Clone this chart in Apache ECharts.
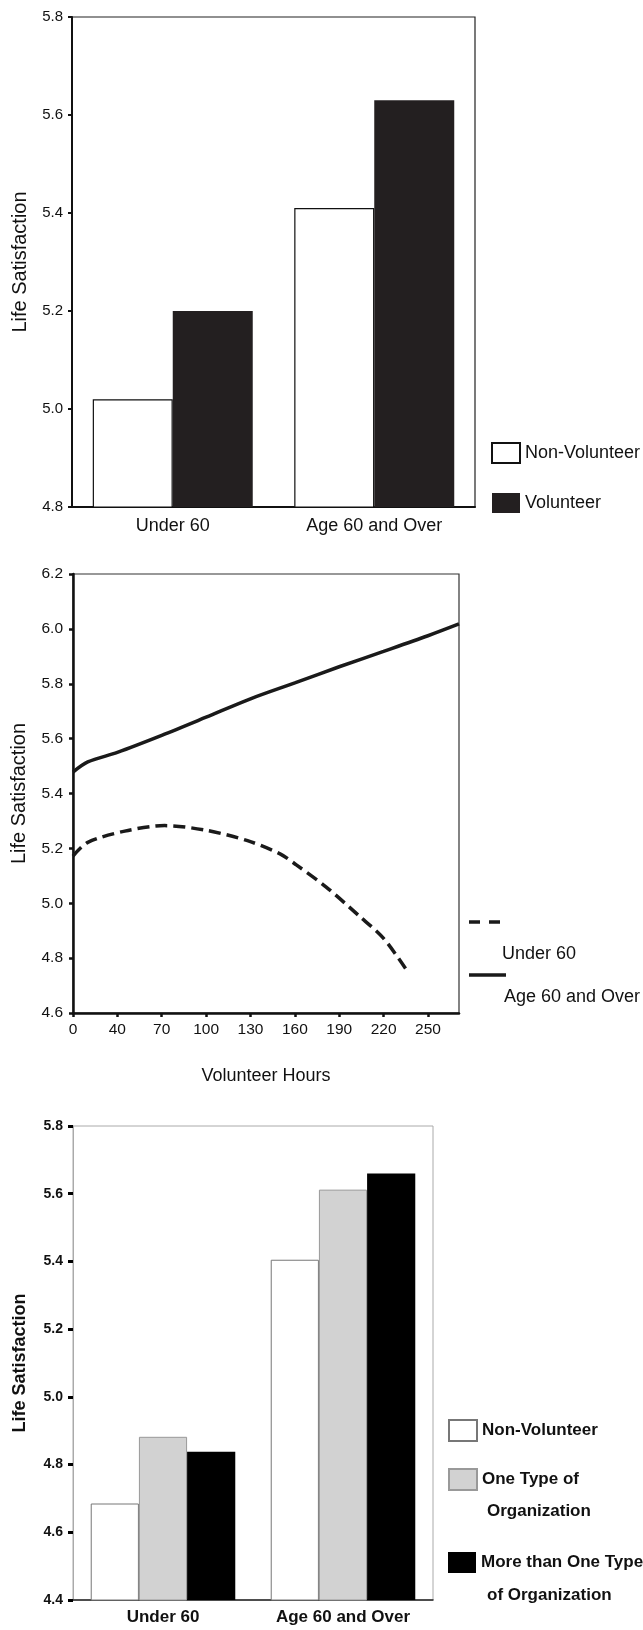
<!DOCTYPE html>
<html><head><meta charset="utf-8">
<script src="https://cdn.jsdelivr.net/npm/echarts@6/dist/echarts.min.js"></script>
<style>
html,body{margin:0;padding:0;background:#fff;}
#wrap{position:relative;width:643px;height:1630px;}
.c{position:absolute;left:0;width:643px;}
</style></head><body>
<div id="wrap">
<div id="c1" class="c" style="top:0;height:540px"></div>
<div id="c2" class="c" style="top:540px;height:550px"></div>
<div id="c3" class="c" style="top:1090px;height:540px"></div>
</div>
<script>
// ---- data ----
const ageGroups = ['Under 60', 'Age 60 and Over'];

// Chart 1: volunteer vs non-volunteer
const chart1NonVolunteer = [5.02, 5.41];
const chart1Volunteer = [5.20, 5.63];

// Chart 2: life satisfaction by volunteer hours
const hoursUnder60 = [10, 20, 45, 72, 100, 128, 150, 161, 181, 203, 220, 237];
const lsUnder60 = [5.172, 5.222, 5.263, 5.283, 5.266, 5.228, 5.18, 5.14, 5.06, 4.956, 4.872, 4.745];
const hoursAge60 = [10, 20, 40, 70, 100, 130, 160, 190, 220, 250, 271];
const lsAge60 = [5.478, 5.515, 5.55, 5.612, 5.678, 5.745, 5.803, 5.862, 5.918, 5.975, 6.018];
const hoursTickValues = [10, 40, 70, 100, 130, 160, 190, 220, 250];
const hoursTickLabels = ['0', '40', '70', '100', '130', '160', '190', '220', '250'];

// Chart 3: number of organization types
const chart3NonVolunteer = [4.685, 5.405];
const chart3OneType = [4.882, 5.612];
const chart3MoreThanOne = [4.838, 5.66];

const FONT = "'Liberation Sans', Arial, Helvetica, sans-serif";
const INK = '#111';
const fmt1 = v => (Math.round(v * 10) / 10).toFixed(1);

// ---- chart 1 ----
const ch1 = echarts.init(document.getElementById('c1'));
ch1.setOption({
  animation: false,
  textStyle: { fontFamily: FONT },
  grid: { left: 72, top: 17, width: 403, height: 490, show: true, borderColor: '#222', borderWidth: 1.2 },
  legend: {
    orient: 'vertical', left: 486, top: 437, itemWidth: 28, itemHeight: 20, itemGap: 29, icon: 'rect',
    textStyle: { fontSize: 18, color: INK, fontFamily: FONT },
    data: ['Non-Volunteer', 'Volunteer']
  },
  xAxis: {
    type: 'category', data: ageGroups,
    axisLine: { lineStyle: { color: INK, width: 2 } },
    axisTick: { alignWithLabel: true, length: 5, lineStyle: { width: 2, color: INK } },
    axisLabel: { fontSize: 18, color: INK, margin: 10, fontFamily: FONT }
  },
  yAxis: {
    type: 'value', min: 4.8, max: 5.8, interval: 0.2,
    axisLine: { show: true, lineStyle: { color: INK, width: 2 } },
    axisTick: { show: true, length: 4, lineStyle: { width: 2, color: INK } },
    splitLine: { show: false },
    axisLabel: { fontSize: 15, color: INK, margin: 9, formatter: fmt1, fontFamily: FONT },
    name: 'Life Satisfaction', nameLocation: 'middle', nameGap: 42,
    nameTextStyle: { fontSize: 20, color: INK, fontFamily: FONT }
  },
  series: [
    { name: 'Non-Volunteer', type: 'bar', data: chart1NonVolunteer, barCategoryGap: '20.6%', barGap: '0%',
      itemStyle: { color: '#fff', borderColor: INK, borderWidth: 1.2 } },
    { name: 'Volunteer', type: 'bar', data: chart1Volunteer, barCategoryGap: '20.6%', barGap: '0%',
      itemStyle: { color: '#231f20' } }
  ]
});

// ---- chart 2 ----
const ch2 = echarts.init(document.getElementById('c2'));
const zip = (xs, ys) => xs.map((x, i) => [x, ys[i]]);
ch2.setOption({
  animation: false,
  textStyle: { fontFamily: FONT },
  grid: { left: 73, top: 34, width: 386, height: 441, show: true, borderColor: '#333', borderWidth: 1.2 },
  xAxis: {
    type: 'value', min: 10, max: 271,
    name: 'Volunteer Hours', nameLocation: 'middle', nameGap: 54,
    nameTextStyle: { fontSize: 18, color: INK, fontFamily: FONT },
    axisLine: { lineStyle: { color: INK, width: 2.5 } },
    axisTick: { show: true, customValues: hoursTickValues, length: 4, lineStyle: { width: 2.5, color: INK } },
    axisLabel: { customValues: hoursTickValues, formatter: v => hoursTickLabels[hoursTickValues.indexOf(Math.round(v))],
      fontSize: 15.5, color: INK, margin: 9, fontFamily: FONT },
    splitLine: { show: false }
  },
  yAxis: {
    type: 'value', min: 4.6, max: 6.2, interval: 0.2,
    axisLine: { show: true, lineStyle: { color: INK, width: 2.5 } },
    axisTick: { show: true, length: 4, lineStyle: { width: 2.5, color: INK } },
    splitLine: { show: false },
    axisLabel: { fontSize: 15.5, color: INK, margin: 10, formatter: fmt1, fontFamily: FONT },
    name: 'Life Satisfaction', nameLocation: 'middle', nameGap: 44,
    nameTextStyle: { fontSize: 20, color: INK, fontFamily: FONT }
  },
  series: [
    { name: 'Under 60', type: 'line', data: zip(hoursUnder60, lsUnder60), symbol: 'none', smooth: 0.3,
      lineStyle: { color: '#1a1a1a', width: 3.5, type: [12, 6] } },
    { name: 'Age 60 and Over', type: 'line', data: zip(hoursAge60, lsAge60), symbol: 'none', smooth: 0.3,
      lineStyle: { color: '#1a1a1a', width: 3.5 } }
  ],
  graphic: [
    { type: 'line', shape: { x1: 469, y1: 382, x2: 500, y2: 382 }, style: { stroke: '#1a1a1a', lineWidth: 3.5, lineDash: [11, 9] } },
    { type: 'text', x: 502, y: 414, style: { text: 'Under 60', fontSize: 18, fill: INK, fontFamily: FONT, verticalAlign: 'middle' } },
    { type: 'line', shape: { x1: 469, y1: 435, x2: 506, y2: 435 }, style: { stroke: '#1a1a1a', lineWidth: 3.5 } },
    { type: 'text', x: 504, y: 457, style: { text: 'Age 60 and Over', fontSize: 18, fill: INK, fontFamily: FONT, verticalAlign: 'middle' } }
  ]
});

// ---- chart 3 ----
const ch3 = echarts.init(document.getElementById('c3'));
const legendText3 = { fontSize: 17, color: INK, fontFamily: FONT, fontWeight: 'bold' };
const firstLine = { 'One Type of Organization': 'One Type of', 'More than One Type of Organization': 'More than One Type' };
ch3.setOption({
  animation: false,
  textStyle: { fontFamily: FONT },
  grid: { left: 73, top: 36, width: 360, height: 474, show: true, borderColor: '#aaa', borderWidth: 1 },
  legend: [
    { left: 443, top: 324, itemWidth: 28, itemHeight: 21, icon: 'rect', textStyle: legendText3, data: ['Non-Volunteer'] },
    { left: 443, top: 373, itemWidth: 28, itemHeight: 21, icon: 'rect', textStyle: legendText3, data: ['One Type of Organization'], formatter: n => firstLine[n] },
    { left: 443, top: 457, itemWidth: 28, itemHeight: 21, icon: 'rect', textStyle: legendText3, data: ['More than One Type of Organization'], formatter: n => firstLine[n] }
  ],
  xAxis: {
    type: 'category', data: ageGroups,
    axisLine: { lineStyle: { color: '#222', width: 1.5 } },
    axisTick: { alignWithLabel: true, length: 5, lineStyle: { width: 3, color: '#000' } },
    axisLabel: { fontSize: 17, color: INK, margin: 9, fontWeight: 'bold', fontFamily: FONT }
  },
  yAxis: {
    type: 'value', min: 4.4, max: 5.8, interval: 0.2,
    axisLine: { show: true, lineStyle: { color: '#aaa', width: 1 } },
    axisTick: { show: true, length: 5, lineStyle: { width: 3, color: '#000' } },
    splitLine: { show: false },
    axisLabel: { fontSize: 14, color: INK, margin: 10, formatter: fmt1, fontWeight: 'bold', fontFamily: FONT },
    name: 'Life Satisfaction', nameLocation: 'middle', nameGap: 44,
    nameTextStyle: { fontSize: 18, color: INK, fontWeight: 'bold', fontFamily: FONT }
  },
  series: [
    { name: 'Non-Volunteer', type: 'bar', data: chart3NonVolunteer, barCategoryGap: '19.7%', barGap: '0%',
      itemStyle: { color: '#fff', borderColor: '#777', borderWidth: 1 } },
    { name: 'One Type of Organization', type: 'bar', data: chart3OneType, barCategoryGap: '19.7%', barGap: '0%',
      itemStyle: { color: '#d2d2d2', borderColor: '#999', borderWidth: 1 } },
    { name: 'More than One Type of Organization', type: 'bar', data: chart3MoreThanOne, barCategoryGap: '19.7%', barGap: '0%',
      itemStyle: { color: '#000' } }
  ],
  graphic: [
    { type: 'text', x: 487, y: 421, style: { text: 'Organization', fontSize: 17, fill: INK, fontFamily: FONT, fontWeight: 'bold', verticalAlign: 'middle' } },
    { type: 'text', x: 487, y: 505, style: { text: 'of Organization', fontSize: 17, fill: INK, fontFamily: FONT, fontWeight: 'bold', verticalAlign: 'middle' } }
  ]
});
</script>
</body></html>
